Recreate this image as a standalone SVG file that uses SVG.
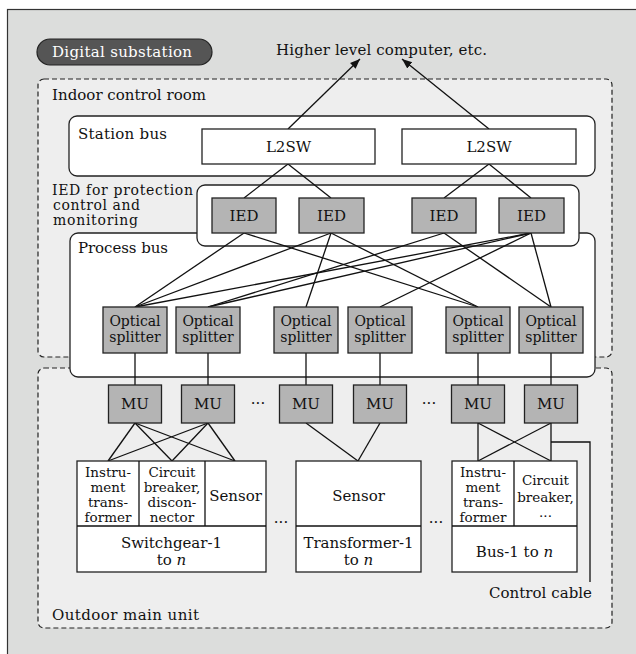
<svg xmlns="http://www.w3.org/2000/svg" width="636" height="654" viewBox="0 0 636 654">
<defs>
<style>
.t{font-family:"DejaVu Serif","Liberation Serif",serif;font-size:15px;fill:#111}
.s{font-size:13.5px}
.m{font-size:14px}
.c{text-anchor:middle}
.w{fill:#fff}
.ln{stroke:#111;stroke-width:1.3;fill:none}
.box{fill:#fff;stroke:#222;stroke-width:1.3}
.g{fill:#b4b4b4;stroke:#222;stroke-width:1.3}
.dash{fill:#eeeeee;stroke:#222;stroke-width:1.2;stroke-dasharray:5 3}
</style>
<marker id="arr" viewBox="0 0 10 10" refX="10" refY="5" markerWidth="10" markerHeight="10" markerUnits="userSpaceOnUse" orient="auto">
<path d="M0,1 L10,5 L0,9 Z" fill="#111"/>
</marker>
</defs>
<rect x="7.5" y="9.5" width="640" height="660" fill="#dcdddc" stroke="#333" stroke-width="1.2"/>
<g id="pill">
<rect x="37" y="39" width="175" height="26" rx="13" fill="#555" stroke="#222" stroke-width="1.2"/>
<text class="t w" x="52" y="57" textLength="140">Digital substation</text>
</g>
<text class="t" x="276" y="55" textLength="211">Higher level computer, etc.</text>
<g id="indoor">
<rect class="dash" x="38" y="79" width="574" height="278" rx="6"/>
<text class="t" x="52" y="100" textLength="154">Indoor control room</text>
</g>
<g id="outdoor">
<rect class="dash" x="38" y="368" width="574" height="260" rx="6"/>
<text class="t" x="52" y="620" textLength="147">Outdoor main unit</text>
</g>
<g id="stationbus">
<rect class="box" x="69" y="116" width="526" height="60" rx="8"/>
<text class="t" x="78" y="139" textLength="89">Station bus</text>
</g>
<g id="processbus">
<rect class="box" x="70" y="233" width="525" height="144" rx="8"/>
<text class="t" x="78" y="253" textLength="90">Process bus</text>
</g>
<g id="iedgroup">
<rect class="box" x="197" y="185" width="382" height="61" rx="8"/>
<text class="t m" x="52" y="195" textLength="141">IED for protection</text>
<text class="t m" x="53" y="210" textLength="87">control and</text>
<text class="t m" x="53" y="225" textLength="85">monitoring</text>
</g>
<g id="connectors">
<line class="ln" x1="288" y1="129" x2="360" y2="59" marker-end="url(#arr)"/>
<line class="ln" x1="489" y1="129" x2="402" y2="59" marker-end="url(#arr)"/>
<line class="ln" x1="288" y1="164" x2="244" y2="198"/>
<line class="ln" x1="288" y1="164" x2="331" y2="198"/>
<line class="ln" x1="489" y1="164" x2="444" y2="198"/>
<line class="ln" x1="489" y1="164" x2="531" y2="198"/>
<line class="ln" x1="244" y1="233" x2="135" y2="307"/>
<line class="ln" x1="244" y1="233" x2="478" y2="307"/>
<line class="ln" x1="331" y1="233" x2="135" y2="307"/>
<line class="ln" x1="331" y1="233" x2="306" y2="307"/>
<line class="ln" x1="331" y1="233" x2="478" y2="307"/>
<line class="ln" x1="444" y1="233" x2="208" y2="307"/>
<line class="ln" x1="444" y1="233" x2="551" y2="307"/>
<line class="ln" x1="531" y1="233" x2="135" y2="307"/>
<line class="ln" x1="531" y1="233" x2="208" y2="307"/>
<line class="ln" x1="531" y1="233" x2="380" y2="307"/>
<line class="ln" x1="531" y1="233" x2="551" y2="307"/>
<line class="ln" x1="135" y1="353" x2="135" y2="385"/>
<line class="ln" x1="208" y1="353" x2="208" y2="385"/>
<line class="ln" x1="306" y1="353" x2="306" y2="385"/>
<line class="ln" x1="380" y1="353" x2="380" y2="385"/>
<line class="ln" x1="478" y1="353" x2="478" y2="385"/>
<line class="ln" x1="551" y1="353" x2="551" y2="385"/>
<line class="ln" x1="135" y1="423" x2="108" y2="461"/>
<line class="ln" x1="135" y1="423" x2="172" y2="461"/>
<line class="ln" x1="135" y1="423" x2="235" y2="461"/>
<line class="ln" x1="208" y1="423" x2="108" y2="461"/>
<line class="ln" x1="208" y1="423" x2="172" y2="461"/>
<line class="ln" x1="208" y1="423" x2="235" y2="461"/>
<line class="ln" x1="306" y1="423" x2="358" y2="461"/>
<line class="ln" x1="380" y1="423" x2="358" y2="461"/>
<line class="ln" x1="478" y1="423" x2="478" y2="461"/>
<line class="ln" x1="478" y1="423" x2="551" y2="461"/>
<line class="ln" x1="551" y1="423" x2="551" y2="461"/>
<line class="ln" x1="551" y1="423" x2="478" y2="461"/>
<polyline class="ln" points="551,442 590,442 590,582"/>
</g>
<g id="l2sw1"><rect class="box" x="202" y="129" width="173" height="35"/><text class="t c" x="288.5" y="152">L2SW</text></g>
<g id="l2sw2"><rect class="box" x="402" y="129" width="174" height="35"/><text class="t c" x="489" y="152">L2SW</text></g>
<g id="ied1"><rect class="g" x="212" y="198" width="64" height="35"/><text class="t c" x="244" y="221">IED</text></g>
<g id="ied2"><rect class="g" x="299" y="198" width="65" height="35"/><text class="t c" x="331.5" y="221">IED</text></g>
<g id="ied3"><rect class="g" x="412" y="198" width="64" height="35"/><text class="t c" x="444" y="221">IED</text></g>
<g id="ied4"><rect class="g" x="499" y="198" width="65" height="35"/><text class="t c" x="531.5" y="221">IED</text></g>
<g id="os1"><rect class="g" x="103" y="307" width="64" height="46"/><text class="t m c" x="135" y="326">Optical</text><text class="t m c" x="135" y="342">splitter</text></g>
<g id="os2"><rect class="g" x="176" y="307" width="64" height="46"/><text class="t m c" x="208" y="326">Optical</text><text class="t m c" x="208" y="342">splitter</text></g>
<g id="os3"><rect class="g" x="274" y="307" width="64" height="46"/><text class="t m c" x="306" y="326">Optical</text><text class="t m c" x="306" y="342">splitter</text></g>
<g id="os4"><rect class="g" x="348" y="307" width="64" height="46"/><text class="t m c" x="380" y="326">Optical</text><text class="t m c" x="380" y="342">splitter</text></g>
<g id="os5"><rect class="g" x="446" y="307" width="64" height="46"/><text class="t m c" x="478" y="326">Optical</text><text class="t m c" x="478" y="342">splitter</text></g>
<g id="os6"><rect class="g" x="519" y="307" width="64" height="46"/><text class="t m c" x="551" y="326">Optical</text><text class="t m c" x="551" y="342">splitter</text></g>
<g id="mu1"><rect class="g" x="108.5" y="385" width="53" height="38"/><text class="t c" x="135" y="409">MU</text></g>
<g id="mu2"><rect class="g" x="181.5" y="385" width="53" height="38"/><text class="t c" x="208" y="409">MU</text></g>
<g id="mu3"><rect class="g" x="279.5" y="385" width="53" height="38"/><text class="t c" x="306" y="409">MU</text></g>
<g id="mu4"><rect class="g" x="353.5" y="385" width="53" height="38"/><text class="t c" x="380" y="409">MU</text></g>
<g id="mu5"><rect class="g" x="451.5" y="385" width="53" height="38"/><text class="t c" x="478" y="409">MU</text></g>
<g id="mu6"><rect class="g" x="524.5" y="385" width="53" height="38"/><text class="t c" x="551" y="409">MU</text></g>
<text class="t c" x="258" y="408">···</text>
<text class="t c" x="429" y="408">···</text>
<g id="switchgear">
<rect class="box" x="77" y="461" width="189" height="111"/>
<line class="ln" x1="77" y1="526" x2="266" y2="526"/>
<line class="ln" x1="139" y1="461" x2="139" y2="526"/>
<line class="ln" x1="205" y1="461" x2="205" y2="526"/>
<text class="t s c" x="108" y="477">Instru-</text>
<text class="t s c" x="108" y="492">ment</text>
<text class="t s c" x="108" y="507">trans-</text>
<text class="t s c" x="108" y="522">former</text>
<text class="t s c" x="172" y="477">Circuit</text>
<text class="t s c" x="172" y="492">breaker,</text>
<text class="t s c" x="172" y="507">discon-</text>
<text class="t s c" x="172" y="522">nector</text>
<text class="t c" x="235.5" y="501">Sensor</text>
<text class="t c" x="171.5" y="548">Switchgear-1</text>
<text class="t c" x="171.5" y="565">to <tspan font-style="italic">n</tspan></text>
</g>
<text class="t c" x="281" y="527">···</text>
<g id="transformer">
<rect class="box" x="296" y="461" width="125" height="111"/>
<line class="ln" x1="296" y1="526" x2="421" y2="526"/>
<text class="t c" x="358.5" y="501">Sensor</text>
<text class="t c" x="358.5" y="548">Transformer-1</text>
<text class="t c" x="358.5" y="565">to <tspan font-style="italic">n</tspan></text>
</g>
<text class="t c" x="436" y="527">···</text>
<g id="bus">
<rect class="box" x="452" y="461" width="125" height="111"/>
<line class="ln" x1="452" y1="526" x2="577" y2="526"/>
<line class="ln" x1="514" y1="461" x2="514" y2="526"/>
<text class="t s c" x="483" y="477">Instru-</text>
<text class="t s c" x="483" y="492">ment</text>
<text class="t s c" x="483" y="507">trans-</text>
<text class="t s c" x="483" y="522">former</text>
<text class="t s c" x="545.5" y="485">Circuit</text>
<text class="t s c" x="545.5" y="502">breaker,</text>
<text class="t s c" x="545.5" y="517">...</text>
<text class="t c" x="514.5" y="557">Bus-1 to <tspan font-style="italic">n</tspan></text>
</g>
<text class="t" x="592" y="598" text-anchor="end" textLength="103">Control cable</text>
</svg>
